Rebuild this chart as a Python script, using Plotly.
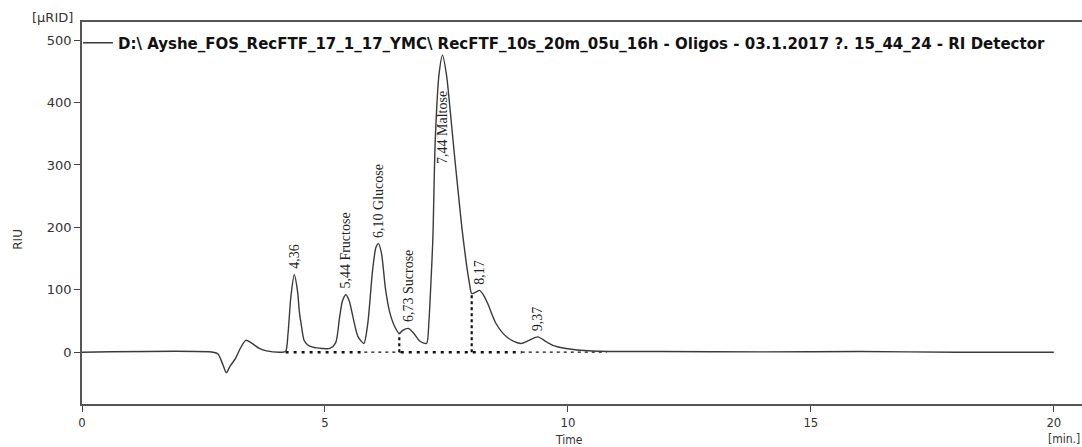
import plotly.graph_objects as go

# Chromatogram trace (time in min, signal in µRIU)
time_min = [0, 2.70, 2.80, 2.90, 2.97, 3.05, 3.16, 3.25, 3.37, 3.50, 3.65, 3.80, 4.09,
            4.19, 4.24, 4.30, 4.37, 4.44, 4.47, 4.52, 4.57, 4.64, 4.75, 4.94, 5.10,
            5.22, 5.30, 5.36, 5.43, 5.50, 5.58, 5.68, 5.80,
            5.88, 5.98, 6.05, 6.10, 6.16, 6.25, 6.33, 6.43, 6.53,
            6.60, 6.72, 6.83, 6.95, 7.09,
            7.14, 7.18, 7.22, 7.27, 7.35, 7.42, 7.50, 7.58, 7.66, 7.74, 7.82, 7.90, 7.97, 8.02,
            8.10, 8.18, 8.26, 8.35, 8.52, 8.73, 8.90, 9.03,
            9.20, 9.38, 9.55, 9.69, 9.96, 10.5, 11.9, 14.0, 16.0, 18.0, 20.0]
signal = [0, 0, -3, -20, -33, -22, -10, 5, 19, 14, 6, 2, 0,
          1, 30, 90, 124, 95, 67, 40, 19, 12, 8, 6, 6,
          15, 55, 82, 92, 82, 55, 25, 14,
          45, 131, 168, 174, 160, 99, 65, 42, 30,
          35, 38, 30, 18, 14,
          50, 110, 180, 340, 447, 476, 445, 385, 320, 258, 198, 148, 112, 94,
          96, 99, 92, 78, 46, 25, 17, 14,
          19, 24.5, 17, 11, 6, 2, 1, 0.5, 1, 0, 0]

trace_name = "D:\\ Ayshe_FOS_RecFTF_17_1_17_YMC\\ RecFTF_10s_20m_05u_16h - Oligos - 03.1.2017 ?. 15_44_24 - RI Detector"

# Peak labels
peak_labels = ["4,36", "5,44 Fructose", "6,10 Glucose", "6,73 Sucrose", "7,44 Maltose", "8,17", "9,37"]
peak_time = [4.37, 5.43, 6.10, 6.72, 7.42, 8.19, 9.38]
peak_label_y = [124, 92, 174, 38, 292, 99, 24.5]

# Integration baseline segments
bold_base_start = [4.19, 6.56]
bold_base_end = [5.81, 9.05]
thin_base_start = [5.81, 9.05]
thin_base_end = [6.56, 10.8]
drop_time = [6.53, 8.02]
drop_value = [30, 94]

x_ticks = [0, 5, 10, 15, 20]
y_ticks = [0, 100, 200, 300, 400, 500]

fig = go.Figure()

for s, e in zip(thin_base_start, thin_base_end):
    fig.add_trace(go.Scatter(x=[s, e], y=[0, 0], mode="lines", showlegend=False,
                             line=dict(color="#111", width=1.2, dash="3px,4px"), hoverinfo="skip"))
for s, e in zip(bold_base_start, bold_base_end):
    fig.add_trace(go.Scatter(x=[s, e], y=[0, 0], mode="lines", showlegend=False,
                             line=dict(color="#111", width=2.6, dash="3px,5px"), hoverinfo="skip"))
for t, v in zip(drop_time, drop_value):
    fig.add_trace(go.Scatter(x=[t, t], y=[0, v], mode="lines", showlegend=False,
                             line=dict(color="#111", width=2.2, dash="3px,3px"), hoverinfo="skip"))

fig.add_trace(go.Scatter(x=time_min, y=signal, mode="lines", name=trace_name,
                         line=dict(color="#3a3a3a", width=1.4, shape="spline", smoothing=0.7)))

for lab, t, v in zip(peak_labels, peak_time, peak_label_y):
    fig.add_annotation(x=t, y=v, text=lab, textangle=-90, showarrow=False,
                       xanchor="center", yanchor="bottom", yshift=4,
                       font=dict(family="Liberation Serif, Times New Roman, serif", size=14, color="#222"))

ann_font = dict(family="DejaVu Sans, Verdana, sans-serif", size=12, color="#333")
cond_font = dict(family="DejaVu Sans Condensed, Liberation Sans Narrow, Arial Narrow, sans-serif", size=12, color="#333")
fig.add_annotation(xref="paper", yref="paper", x=-0.03, y=1.013, text="[µRID]", showarrow=False,
                   xanchor="center", yanchor="middle", font=dict(family="DejaVu Sans, sans-serif", size=13, color="#333"))
fig.add_annotation(xref="paper", yref="paper", x=-0.064, y=0.43, text="RIU", textangle=-90, showarrow=False,
                   xanchor="center", yanchor="middle", font=ann_font)
fig.add_annotation(xref="paper", yref="paper", x=0.487, y=-0.094, text="Time", showarrow=False,
                   xanchor="center", yanchor="middle", font=cond_font)
fig.add_annotation(xref="paper", yref="paper", x=1.0, y=-0.092, text="[min.]", showarrow=False,
                   xanchor="right", yanchor="middle", font=cond_font)

fig.update_layout(
    width=1082, height=447,
    margin=dict(l=82, r=0, t=22, b=43),
    paper_bgcolor="white", plot_bgcolor="white",
    showlegend=True,
    legend=dict(x=-0.004, y=0.945, xanchor="left", yanchor="middle", bgcolor="rgba(0,0,0,0)",
                itemwidth=30, font=dict(family="DejaVu Sans, Verdana, sans-serif", size=15, color="#111", weight="bold")),
    xaxis=dict(range=[0, 20.58], tickvals=x_ticks, ticks="outside", ticklen=6, tickcolor="#444",
               showgrid=False, zeroline=False, showline=True, linecolor="#555", linewidth=1.5, mirror=True,
               tickfont=dict(family="DejaVu Sans Condensed, Liberation Sans Narrow, sans-serif", size=13, color="#333")),
    yaxis=dict(range=[-83, 529], tickvals=y_ticks, ticks="outside", ticklen=6, tickcolor="#444",
               showgrid=False, zeroline=False, showline=True, linecolor="#555", linewidth=1.5,
               tickfont=dict(family="DejaVu Sans, Verdana, sans-serif", size=13, color="#333")),
)

fig.write_html("out.html")
